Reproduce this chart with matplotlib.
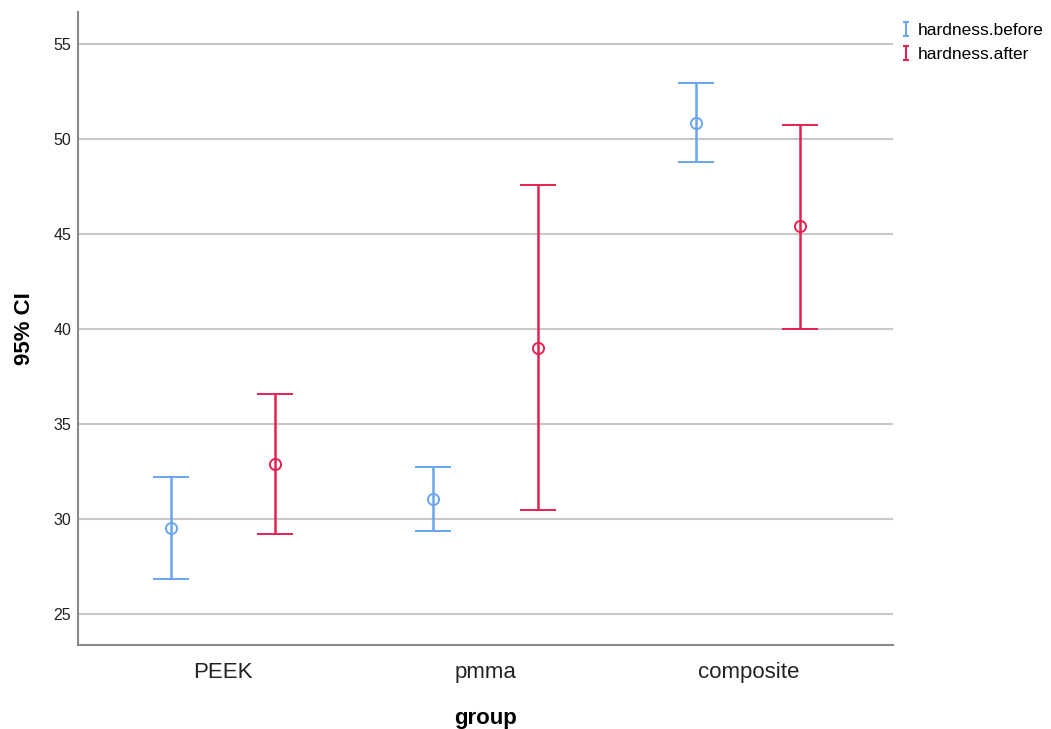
import matplotlib
matplotlib.use("Agg")
import matplotlib.pyplot as plt
from matplotlib.lines import Line2D
from matplotlib.path import Path
import numpy as np

plt.rcParams['font.family'] = ['Liberation Sans', 'DejaVu Sans']

# group categories and 95% CI values
groups = ["PEEK", "pmma", "composite"]

before_mean = [29.53, 31.05, 50.84]
before_low = [26.84, 29.37, 48.79]
before_high = [32.21, 32.74, 52.95]

after_mean = [32.89, 39.0, 45.42]
after_low = [29.21, 30.47, 40.0]
after_high = [36.58, 47.58, 50.74]

blue = "#6aa6ec"
red = "#e2224f"

fig = plt.figure(figsize=(10.51, 7.29), dpi=100)
ax = fig.add_axes([78/1051, 84/729, 815/1051, 633/729])

x = np.arange(len(groups))
off = 0.198

def draw(xs, mean, low, high, col, lab):
    mean = np.array(mean)
    err = [mean - np.array(low), np.array(high) - mean]
    ax.errorbar(xs, mean, yerr=err, fmt='o', color=col, mfc='none', mec=col,
                ms=8, mew=1.4, elinewidth=1.8, capsize=13, capthick=1.8, label=lab, zorder=3)

draw(x - off, before_mean, before_low, before_high, blue, "hardness.before")
draw(x + off, after_mean, after_low, after_high, red, "hardness.after")

ax.set_xlim(-0.551, 2.551)
ax.set_ylim(23.37, 56.68)
ax.set_yticks([25, 30, 35, 40, 45, 50, 55])
ax.set_xticks(x)
ax.set_xticklabels(groups, fontsize=16, color="#222222")
ax.tick_params(axis='y', labelsize=11.5, length=0, pad=5, labelcolor="#222222")
ax.tick_params(axis='x', length=0, pad=12)
ax.grid(axis='y', color="#c8c8c8", linewidth=1.5, zorder=0)
ax.set_axisbelow(True)

for s in ["top", "right"]:
    ax.spines[s].set_visible(False)
for s in ["left", "bottom"]:
    ax.spines[s].set_color("#8a8a8a")
    ax.spines[s].set_linewidth(1.5)

ax.set_ylabel("95% CI", fontsize=16, fontweight="bold", labelpad=13)
ax.set_xlabel("group", fontsize=16, fontweight="bold", labelpad=18)

# legend handles: I-shaped symbol
ibar = Path([(-0.5, 1), (0.5, 1), (0, 1), (0, -1), (-0.5, -1), (0.5, -1)],
            [Path.MOVETO, Path.LINETO, Path.MOVETO, Path.LINETO, Path.MOVETO, Path.LINETO])
h1 = Line2D([], [], marker=ibar, linestyle='none', color=blue, markersize=10, markeredgewidth=1.5)
h2 = Line2D([], [], marker=ibar, linestyle='none', color=red, markersize=10, markeredgewidth=1.5)
ax.legend([h1, h2], ["hardness.before", "hardness.after"], loc="upper left",
          bbox_to_anchor=(1.0, 0.995), frameon=False, fontsize=12.5,
          handlelength=0.6, handletextpad=0.35, labelspacing=0.5, borderaxespad=0.05)

fig.savefig("out.png", dpi=100)
